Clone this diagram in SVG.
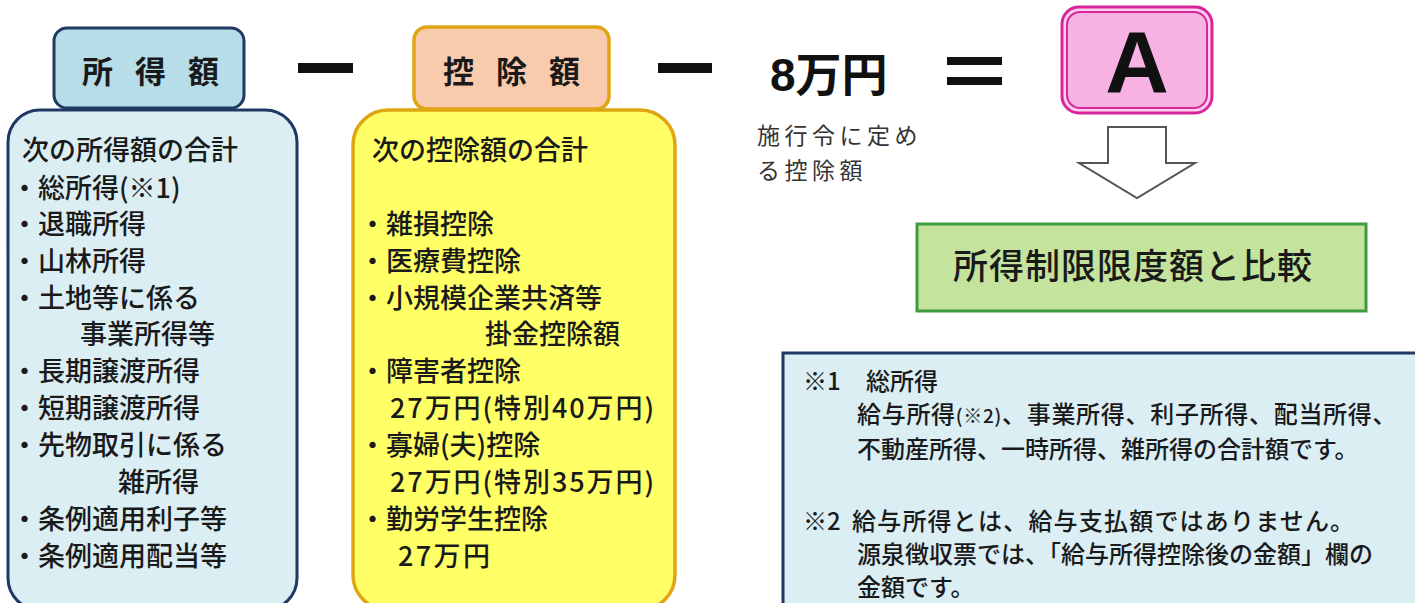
<svg xmlns="http://www.w3.org/2000/svg" width="1415" height="603" viewBox="0 0 1415 603">
<style>
.t{font-family:"Noto Sans CJK JP","Noto Sans CJK SC",sans-serif;fill:#1a1a1a;font-weight:500}
.b{font-size:27px}
.h{font-size:31px;font-weight:700;letter-spacing:7.5px}
.n{font-size:24px}
.navy{stroke:#1f3864;stroke-width:3}
.gold{stroke:#e0a512;stroke-width:3.5}
.op{fill:#111}
</style>
<rect width="1415" height="603" fill="#ffffff"/>

<g id="income-body">
<rect x="8" y="110" width="289" height="500" rx="32" fill="#dbeef3" class="navy"/>
<text class="t b" x="22" y="160">次の所得額の合計</text>
<text class="t b" x="11" y="198">・総所得(※1)</text>
<text class="t b" x="11" y="234">・退職所得</text>
<text class="t b" x="11" y="271">・山林所得</text>
<text class="t b" x="11" y="308">・土地等に係る</text>
<text class="t b" x="80" y="344">事業所得等</text>
<text class="t b" x="11" y="381">・長期譲渡所得</text>
<text class="t b" x="11" y="418">・短期譲渡所得</text>
<text class="t b" x="11" y="455">・先物取引に係る</text>
<text class="t b" x="118" y="492">雑所得</text>
<text class="t b" x="11" y="529">・条例適用利子等</text>
<text class="t b" x="11" y="566">・条例適用配当等</text>
</g>
<g id="income-header">
<rect x="54" y="28" width="190" height="80" rx="13" fill="#b7dde8" class="navy"/>
<text class="t h" x="82" y="83">所 得 額</text>
</g>

<g id="deduction-body">
<rect x="353" y="110" width="322" height="500" rx="35" fill="#ffff66" class="gold"/>
<text class="t b" x="372" y="160">次の控除額の合計</text>
<text class="t b" x="359" y="234">・雑損控除</text>
<text class="t b" x="359" y="271">・医療費控除</text>
<text class="t b" x="359" y="308">・小規模企業共済等</text>
<text class="t b" x="485" y="344">掛金控除額</text>
<text class="t b" x="359" y="381">・障害者控除</text>
<text class="t b" x="390" y="418" textLength="264" lengthAdjust="spacing">27万円(特別40万円)</text>
<text class="t b" x="359" y="455">・寡婦(夫)控除</text>
<text class="t b" x="390" y="492" textLength="264" lengthAdjust="spacing">27万円(特別35万円)</text>
<text class="t b" x="359" y="529">・勤労学生控除</text>
<text class="t b" x="398" y="566" textLength="92" lengthAdjust="spacing">27万円</text>
</g>
<g id="deduction-header">
<rect x="414" y="27" width="195" height="82" rx="13" fill="#f8cbad" class="gold"/>
<text class="t h" x="443" y="83">控 除 額</text>
</g>

<g id="operators">
<rect class="op" x="298" y="63" width="55" height="10"/>
<rect class="op" x="658" y="63" width="54" height="10"/>
<rect class="op" x="947" y="57" width="55" height="8"/>
<rect class="op" x="947" y="77" width="55" height="8"/>
</g>

<g id="fixed-deduction">
<text x="770" y="91" style="font-family:'Liberation Sans','Noto Sans CJK JP',sans-serif;font-size:46px;font-weight:700;fill:#111">8万円</text>
<text class="t" x="757" y="144" style="font-size:23px;letter-spacing:4.5px;fill:#333;font-weight:400">施行令に定め</text>
<text class="t" x="757" y="179" style="font-size:23px;letter-spacing:4.5px;fill:#333;font-weight:400">る控除額</text>
</g>

<g id="result-a">
<rect x="1062" y="7" width="150" height="106" rx="17" fill="#fbd0ee" stroke="#d9259a" stroke-width="3"/>
<rect x="1067" y="12" width="140" height="96" rx="13" fill="#f8b2e4" stroke="#d9259a" stroke-width="2"/>
<text x="1137" y="92" text-anchor="middle" style="font-family:'Liberation Sans',Arial,sans-serif;font-size:88px;font-weight:700;fill:#111">A</text>
</g>

<g id="connectors">
<path d="M1108,127 H1166 V163 H1195 L1137,198 L1079,163 H1108 Z" fill="#ffffff" stroke="#555" stroke-width="2" stroke-linejoin="miter"/>
</g>

<g id="compare">
<rect x="917" y="224" width="449" height="87" fill="#c4e39c" stroke="#3e9b3e" stroke-width="3"/>
<text class="t" x="953" y="279" style="font-size:35px;letter-spacing:1px">所得制限限度額と比較</text>
</g>

<g id="notes">
<rect x="783" y="353" width="700" height="300" fill="#dbeef4" class="navy"/>
<text class="t n" x="803" y="390">※1<tspan x="866">総所得</tspan></text>
<text class="t n" x="857" y="423" style="letter-spacing:0.7px">給与所得<tspan style="font-size:19px">(※2)</tspan>、事業所得、利子所得、配当所得、</text>
<text class="t n" x="857" y="458">不動産所得、一時所得、雑所得の合計額です。</text>
<text class="t n" x="803" y="530">※2<tspan x="852" style="letter-spacing:1.2px">給与所得とは、給与支払額ではありません。</tspan></text>
<text class="t n" x="857" y="563">源泉徴収票では、「給与所得控除後の金額」欄の</text>
<text class="t n" x="857" y="596">金額です。</text>
</g>
</svg>
